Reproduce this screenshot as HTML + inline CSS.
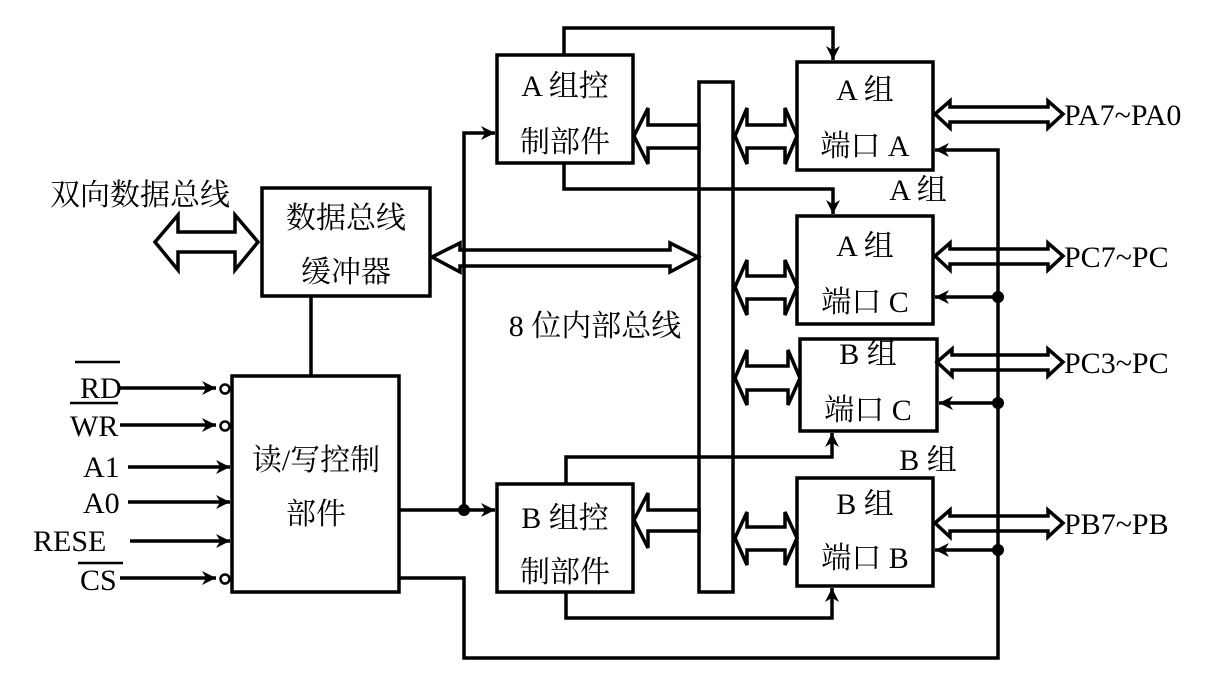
<!DOCTYPE html>
<html><head><meta charset="utf-8"><style>
html,body{margin:0;padding:0;background:#fff;}
svg{display:block;}
text{font-family:"Liberation Serif","Noto Serif CJK SC","Noto Sans CJK SC",serif;fill:#000;}
</style></head><body>
<svg width="1220" height="688" viewBox="0 0 1220 688" xmlns="http://www.w3.org/2000/svg">
<defs>
<marker id="ar" viewBox="0 0 10 10" refX="10" refY="5" markerWidth="14" markerHeight="14" markerUnits="userSpaceOnUse" orient="auto">
<path d="M0,0 L10,5 L0,10 L3,5 Z" fill="#000"/>
</marker>
</defs>
<g fill="none" stroke="#000" stroke-width="3.5">
<rect x="262" y="188" width="168" height="108"/>
<rect x="232" y="376" width="167" height="216"/>
<rect x="497" y="55" width="136" height="108"/>
<rect x="497" y="484" width="136" height="108"/>
<rect x="699" y="82" width="34" height="510"/>
<rect x="797" y="62" width="136" height="108"/>
<rect x="797" y="216" width="136" height="108"/>
<rect x="800" y="339" width="137" height="92"/>
<rect x="797" y="478" width="136" height="108"/>
</g>
<g fill="#fff" stroke="#000" stroke-width="3.5" stroke-linejoin="miter">
<polygon points="155,242 178,215 178,232 235,232 235,215 258,242 235,270 235,252 178,252 178,270"/>
<polygon points="432,257 460,243 460,250 670,250 670,243 698,257 670,272 670,266 460,266 460,272"/>
<polygon points="634,136 648,108 648,125 699,125 699,148 648,148 648,164"/>
<polygon points="735,136 747,108 747,125 785,125 785,108 797,136 785,164 785,148 747,148 747,164"/>
<polygon points="935,114 950,101 950,107 1048,107 1048,101 1063,114 1048,128 1048,122 950,122 950,128"/>
<polygon points="735,287 747,260 747,276 785,276 785,260 797,287 785,315 785,299 747,299 747,315"/>
<polygon points="935,256 950,243 950,249 1048,249 1048,243 1063,256 1048,270 1048,264 950,264 950,270"/>
<polygon points="735,378 747,350 747,366 788,366 788,350 800,378 788,405 788,390 747,390 747,405"/>
<polygon points="937,362 952,349 952,355 1048,355 1048,349 1063,362 1048,376 1048,370 952,370 952,376"/>
<polygon points="634,520 648,493 648,510 699,510 699,531 648,531 648,548"/>
<polygon points="735,538 747,512 747,527 785,527 785,512 797,538 785,565 785,550 747,550 747,565"/>
<polygon points="935,523 950,510 950,516 1048,516 1048,510 1063,523 1048,537 1048,531 950,531 950,537"/>
</g>
<g fill="none" stroke="#000" stroke-width="3.5">
<line x1="311" y1="296" x2="311" y2="376"/>
<polyline points="464,510 464,133 495,133" marker-end="url(#ar)"/>
<polyline points="399,510 495,510" marker-end="url(#ar)"/>
<polyline points="564,55 564,28 833,28 833,60" marker-end="url(#ar)"/>
<polyline points="564,163 564,189 833,189 833,214" marker-end="url(#ar)"/>
<polyline points="566,484 566,457 832,457 832,433" marker-end="url(#ar)"/>
<polyline points="566,592 566,618 832,618 832,588" marker-end="url(#ar)"/>
<polyline points="399,578 464,578 464,658 998,658 998,150 935,150" marker-end="url(#ar)"/>
<line x1="998" y1="297" x2="935" y2="297" marker-end="url(#ar)"/>
<line x1="998" y1="403" x2="939" y2="403" marker-end="url(#ar)"/>
<line x1="998" y1="550" x2="935" y2="550" marker-end="url(#ar)"/>
<line x1="120" y1="388" x2="216" y2="388" marker-end="url(#ar)"/>
<line x1="120" y1="425" x2="216" y2="425" marker-end="url(#ar)"/>
<line x1="128" y1="467" x2="230" y2="467" marker-end="url(#ar)"/>
<line x1="128" y1="502" x2="230" y2="502" marker-end="url(#ar)"/>
<line x1="130" y1="541" x2="230" y2="541" marker-end="url(#ar)"/>
<line x1="120" y1="578" x2="216" y2="578" marker-end="url(#ar)"/>
</g>
<g fill="#fff" stroke="#000" stroke-width="2.5">
<circle cx="225" cy="389" r="4.5"/>
<circle cx="225" cy="426" r="4.5"/>
<circle cx="225" cy="579" r="4.5"/>
</g>
<g fill="#000">
<circle cx="464" cy="510" r="6"/>
<circle cx="998" cy="297" r="6"/>
<circle cx="998" cy="403" r="6"/>
<circle cx="998" cy="550" r="6"/>
</g>
<g stroke="#000" stroke-width="2.5">
<line x1="75" y1="362" x2="120" y2="362"/>
<line x1="70" y1="403" x2="118" y2="403"/>
<line x1="78" y1="563" x2="123" y2="563"/>
</g>
<g font-size="30" text-anchor="middle">
<text x="140" y="205">双向数据总线</text>
<text x="346" y="228">数据总线</text>
<text x="346" y="282">缓冲器</text>
<text x="316" y="470">读/写控制</text>
<text x="316" y="524">部件</text>
<text x="565" y="96">A 组控</text>
<text x="565" y="152">制部件</text>
<text x="565" y="528">B 组控</text>
<text x="565" y="582">制部件</text>
<text x="595" y="336">8 位内部总线</text>
<text x="865" y="100">A 组</text>
<text x="865" y="156">端口 A</text>
<text x="918" y="200">A 组</text>
<text x="865" y="256">A 组</text>
<text x="865" y="312">端口 C</text>
<text x="868" y="364">B 组</text>
<text x="868" y="420">端口 C</text>
<text x="928" y="470">B 组</text>
<text x="865" y="514">B 组</text>
<text x="865" y="568">端口 B</text>
</g>
<g font-size="30">
<text x="1064" y="125">PA7~PA0</text>
<text x="1064" y="267">PC7~PC</text>
<text x="1064" y="373">PC3~PC</text>
<text x="1064" y="534">PB7~PB</text>
<text x="80" y="398">RD</text>
<text x="70" y="436">WR</text>
<text x="83" y="477">A1</text>
<text x="83" y="513">A0</text>
<text x="33" y="551">RESE</text>
<text x="80" y="590">CS</text>
</g>
</svg>
</body></html>
